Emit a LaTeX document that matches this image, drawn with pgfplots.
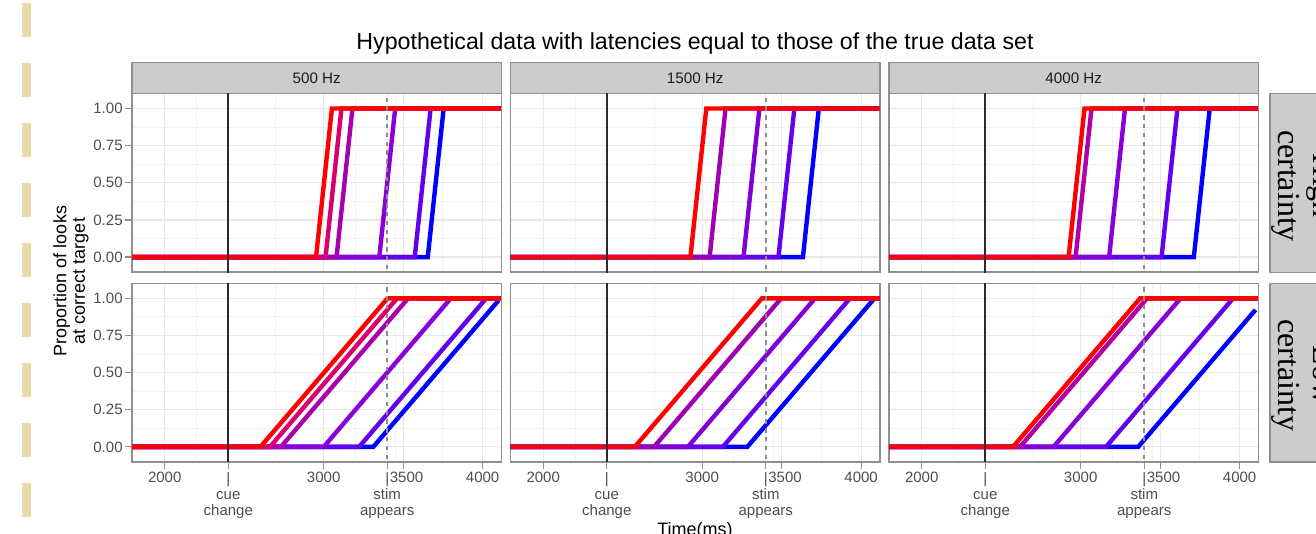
\documentclass[border=0pt]{standalone}
\usepackage{fontspec}
\setmainfont{Liberation Sans}
\newfontfamily\stripserif{Liberation Serif}
\usepackage{pgfplots}
\pgfplotsset{compat=1.18}

\definecolor{gridmaj}{HTML}{E8E8E8}
\definecolor{gridmin}{HTML}{F2F2F2}
\definecolor{frame}{HTML}{8F8F8F}
\definecolor{stripfill}{HTML}{CCCCCC}
\definecolor{ticktext}{HTML}{4D4D4D}
\definecolor{deco}{HTML}{EADCA8}
\definecolor{cueline}{HTML}{2B2B2B}
\definecolor{stimline}{HTML}{8C8C8C}
% line colours, red (early) to blue (late)
\definecolor{rA}{HTML}{D8006F}
\definecolor{rB}{HTML}{A800B0}
\definecolor{rC}{HTML}{8A00D8}
\definecolor{rD}{HTML}{6200EE}
\definecolor{mA}{HTML}{A000B4}
\definecolor{mB}{HTML}{8000D8}
\definecolor{mC}{HTML}{6400EC}
\definecolor{hA}{HTML}{B000A8}
\definecolor{hB}{HTML}{8800D8}
\definecolor{hC}{HTML}{6400EC}

\pgfplotsset{
  panel/.style={
    scale only axis, width=184.75pt, height=89.3pt,
    anchor=north west,
    xmin=1794, xmax=4119, ymin=-0.101, ymax=1.101,
    xtick={2000,2400,3000,3400,3500,4000},
    minor xtick={2200,2700,3200,3450,3750},
    ytick={0,0.25,0.5,0.75,1},
    minor ytick={0.125,0.375,0.625,0.875},
    grid=both,
    major grid style={gridmaj, line width=0.6pt},
    minor grid style={gridmin, line width=0.5pt},
    axis line style={frame, line width=0.6pt},
    tick style={frame, line width=0.6pt},
    major tick length=3.5pt, minor tick length=0pt,
    tick align=outside, xtick pos=left, ytick pos=left,
    xticklabels={}, yticklabels={},
    ticklabel style={font=\fontsize{7.5}{8.2}\selectfont, text=ticktext},
    yticklabel style={inner sep=1pt},
    xticklabel style={align=center, inner sep=1.5pt},
    clip=true,
  },
  noy/.style={ytick style={draw=none}},
  nox/.style={xtick style={draw=none}},
  lefty/.style={yticklabels={0.00,0.25,0.50,0.75,1.00}},
  bottomx/.style={xticklabels={2000,{|\\cue\\change},3000,{|\\stim\\appears},{\hspace*{0.45em}3500},4000}},
  dat/.style={line width=2.2pt, no markers},
  cue/.style={cueline, line width=0.9pt, no markers},
  stim/.style={stimline, line width=0.8pt, dash pattern=on 2.2pt off 2.2pt, no markers},
}

\begin{document}
\begin{tikzpicture}
\begin{scope}[x=0.5pt,y=-0.5pt]
  \useasboundingbox (0,0) rectangle (1316,534);
  % slide decoration on the left
  \foreach \k in {0,...,8} {
    \fill[deco] (22,{3+60*\k}) rectangle (31,{37+60*\k});
  }
  \node[font=\fontsize{11.6}{13}\selectfont] at (695,44)
    {Hypothetical data with latencies equal to those of the true data set};
  % facet strips (top)
  \foreach \xl/\xr/\lab in {132/501.5/500 Hz, 510.5/880/1500 Hz, 889/1258.5/4000 Hz} {
    \filldraw[fill=stripfill, draw=frame, line width=0.6pt] (\xl,62.7) rectangle (\xr,93.5);
    \node[font=\fontsize{7.6}{8}\selectfont, text=black!90] at ({(\xl+\xr)/2},78.5) {\lab};
  }
  % facet strips (right)
  \filldraw[fill=stripfill, draw=frame, line width=0.6pt] (1270,93.5) rectangle (1340,272.1);
  \filldraw[fill=stripfill, draw=frame, line width=0.6pt] (1270,283.3) rectangle (1340,461.9);
  \node[rotate=-90, anchor=base, font=\stripserif\fontsize{16}{18}\selectfont] at (1278,186) {certainty};
  \node[rotate=-90, anchor=base, font=\stripserif\fontsize{16}{18}\selectfont] at (1313,186) {High};
  \node[rotate=-90, anchor=base, font=\stripserif\fontsize{16}{18}\selectfont] at (1278,375) {certainty};
  \node[rotate=-90, anchor=base, font=\stripserif\fontsize{16}{18}\selectfont] at (1313,375) {Low};
  % axis titles
  \node[rotate=90, align=center, font=\fontsize{9}{9.2}\selectfont] at (71,281)
    {Proportion of looks\\at correct target};
  \node[anchor=base, font=\fontsize{9}{10}\selectfont] at (695,535) {Time(ms)};
\end{scope}

% ---------------- high certainty ----------------
\begin{axis}[panel, lefty, nox, at={(66pt,-46.75pt)}]
  \addplot[dat, blue] coordinates {(1795,0) (3655,0) (3755,1) (4115,1)};
  \addplot[dat, rD] coordinates {(1795,0) (3573,0) (3673,1) (4115,1)};
  \addplot[dat, rC] coordinates {(1795,0) (3350,0) (3450,1) (4115,1)};
  \addplot[dat, rB] coordinates {(1795,0) (3081,0) (3181,1) (4115,1)};
  \addplot[dat, rA] coordinates {(1795,0) (3012,0) (3112,1) (4115,1)};
  \addplot[dat, red] coordinates {(1795,0) (2952,0) (3052,1) (4115,1)};
  \addplot[cue] coordinates {(2400,-0.2) (2400,1.2)};
  \addplot[stim] coordinates {(3400,-0.2) (3400,1.2)};
\end{axis}
\begin{axis}[panel, noy, nox, at={(255.25pt,-46.75pt)}]
  \addplot[dat, blue] coordinates {(1795,0) (3634,0) (3734,1) (4115,1)};
  \addplot[dat, mC] coordinates {(1795,0) (3480,0) (3580,1) (4115,1)};
  \addplot[dat, mB] coordinates {(1795,0) (3260,0) (3360,1) (4115,1)};
  \addplot[dat, mA] coordinates {(1795,0) (3047,0) (3147,1) (4115,1)};
  \addplot[dat, red] coordinates {(1795,0) (2926,0) (3026,1) (4115,1)};
  \addplot[cue] coordinates {(2400,-0.2) (2400,1.2)};
  \addplot[stim] coordinates {(3400,-0.2) (3400,1.2)};
\end{axis}
\begin{axis}[panel, noy, nox, at={(444.5pt,-46.75pt)}]
  \addplot[dat, blue] coordinates {(1795,0) (3712,0) (3812,1) (4115,1)};
  \addplot[dat, hC] coordinates {(1795,0) (3509,0) (3609,1) (4115,1)};
  \addplot[dat, hB] coordinates {(1795,0) (3179,0) (3279,1) (4115,1)};
  \addplot[dat, hA] coordinates {(1795,0) (2968,0) (3068,1) (4115,1)};
  \addplot[dat, red] coordinates {(1795,0) (2924,0) (3024,1) (4115,1)};
  \addplot[cue] coordinates {(2400,-0.2) (2400,1.2)};
  \addplot[stim] coordinates {(3400,-0.2) (3400,1.2)};
\end{axis}

% ---------------- low certainty ----------------
\begin{axis}[panel, lefty, bottomx, at={(66pt,-141.65pt)}]
  \addplot[dat, blue] coordinates {(1795,0) (3312,0) (4100,0.985)};
  \addplot[dat, rD] coordinates {(1795,0) (3223,0) (4023,1) (4115,1)};
  \addplot[dat, rC] coordinates {(1795,0) (3000,0) (3800,1) (4115,1)};
  \addplot[dat, rB] coordinates {(1795,0) (2731,0) (3531,1) (4115,1)};
  \addplot[dat, rA] coordinates {(1795,0) (2662,0) (3462,1) (4115,1)};
  \addplot[dat, red] coordinates {(1795,0) (2602,0) (3402,1) (4115,1)};
  \addplot[cue] coordinates {(2400,-0.2) (2400,1.2)};
  \addplot[stim] coordinates {(3400,-0.2) (3400,1.2)};
\end{axis}
\begin{axis}[panel, noy, bottomx, at={(255.25pt,-141.65pt)}]
  \addplot[dat, blue] coordinates {(1795,0) (3284,0) (4084,1) (4115,1)};
  \addplot[dat, mC] coordinates {(1795,0) (3130,0) (3930,1) (4115,1)};
  \addplot[dat, mB] coordinates {(1795,0) (2910,0) (3710,1) (4115,1)};
  \addplot[dat, mA] coordinates {(1795,0) (2697,0) (3497,1) (4115,1)};
  \addplot[dat, red] coordinates {(1795,0) (2576,0) (3376,1) (4115,1)};
  \addplot[cue] coordinates {(2400,-0.2) (2400,1.2)};
  \addplot[stim] coordinates {(3400,-0.2) (3400,1.2)};
\end{axis}
\begin{axis}[panel, noy, bottomx, at={(444.5pt,-141.65pt)}]
  \addplot[dat, blue] coordinates {(1795,0) (3362,0) (4100,0.9225)};
  \addplot[dat, hC] coordinates {(1795,0) (3159,0) (3959,1) (4115,1)};
  \addplot[dat, hB] coordinates {(1795,0) (2829,0) (3629,1) (4115,1)};
  \addplot[dat, hA] coordinates {(1795,0) (2618,0) (3418,1) (4115,1)};
  \addplot[dat, red] coordinates {(1795,0) (2574,0) (3374,1) (4115,1)};
  \addplot[cue] coordinates {(2400,-0.2) (2400,1.2)};
  \addplot[stim] coordinates {(3400,-0.2) (3400,1.2)};
\end{axis}
\end{tikzpicture}
\end{document}
